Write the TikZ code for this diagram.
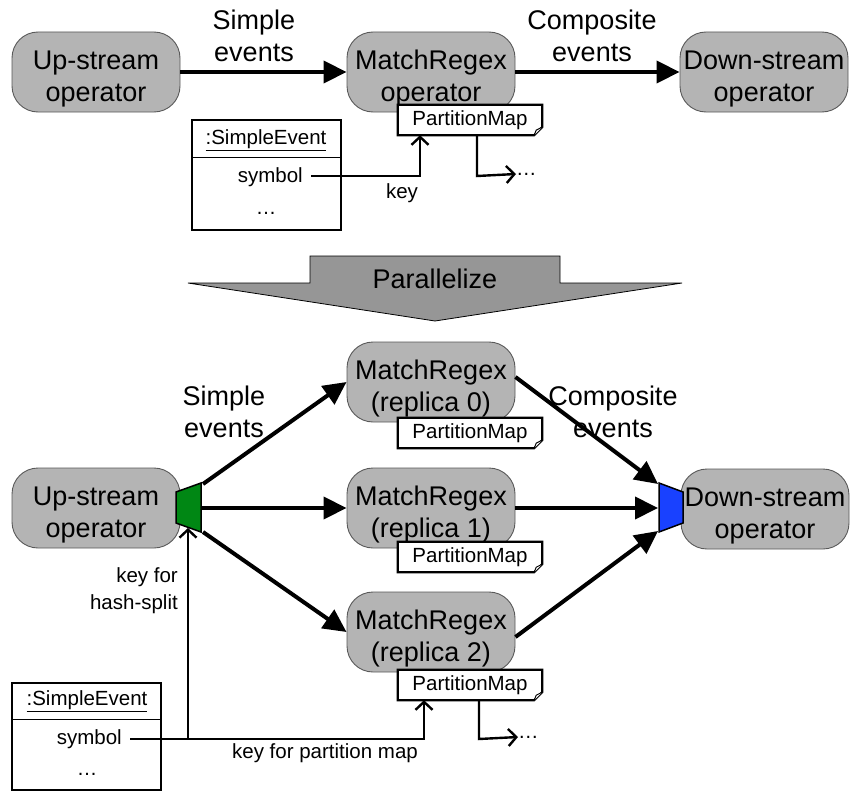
\documentclass[tikz,border=0pt]{standalone}
\usepackage{fontspec}
\setmainfont{Liberation Sans}
\usetikzlibrary{arrows.meta,calc}
\definecolor{nodegray}{RGB}{180,180,180}
\definecolor{arrowgray}{RGB}{150,150,150}
\definecolor{hashgreen}{RGB}{0,135,20}
\definecolor{mergeblue}{RGB}{25,65,255}
\newcommand\lowtxt{\rule{0pt}{33pt}}
\newcommand\pmapoutline[1]{%
  \draw[line width=2.2pt, line join=miter]
    (#1.north west) -- (#1.north east) -- ($(#1.south east)+(0,-8)$)
    -- ($(#1.south east)+(-8,0)$) -- (#1.south west) -- cycle;
  \draw[line width=1pt, fill=white]
    ($(#1.south east)+(0,-8)$) -- ($(#1.south east)+(-6,-5)$) -- ($(#1.south east)+(-8,0)$);
}
\begin{document}
\begin{tikzpicture}[x=1pt,y=-1pt,
  op/.style={draw=black!65, line width=0.9pt, fill=nodegray, rounded corners=26pt,
    minimum width=168pt, minimum height=80pt, align=center,
    font=\fontsize{27}{32}\selectfont, inner sep=0pt},
  lbl/.style={align=center, font=\fontsize{27}{32}\selectfont, inner sep=0pt},
  sm/.style={font=\fontsize{20.5}{27}\selectfont, inner sep=0pt},
  pm/.style={fill=white, minimum width=144pt, minimum height=30pt, inner sep=0pt,
    font=\fontsize{20.5}{24}\selectfont},
  flow/.style={line width=4pt, -{Triangle[length=23pt,width=22pt]}},
  keyline/.style={line width=2.4pt, line join=miter, -{Straight Barb[length=8pt,width=17pt]}},
  umlbox/.style={draw, line width=2pt},
]
\useasboundingbox (0,0) rectangle (851,792);

% ---------------- top part ----------------
\node[op] (up1) at (96,72) {\lowtxt Up-stream\\operator};
\node[op] (mr) at (431,72) {\lowtxt MatchRegex\\operator};
\node[op] (down1) at (764,72) {\lowtxt Down-stream\\operator};
\node[lbl] (se1lbl) at (254,36) {Simple\\events};
\node[lbl] (ce1lbl) at (592,36) {Composite\\events};
\draw[flow] (up1) -- (mr);
\draw[flow] (mr) -- (down1);

\node[pm] (pm1) at (470,120) {PartitionMap};
\pmapoutline{pm1}

\draw[umlbox] (192,120) rectangle (341,230);
\draw[line width=1pt] (192,157) -- (341,157);
\node[sm] (set1) at (266,140) {\underline{:SimpleEvent}};
\node[sm, anchor=east] (sym1) at (303,177) {symbol};
\node[sm] (dots1) at (266,213) {\dots};
\coordinate (k1) at (420,176);
\draw[keyline] ([xshift=8pt]sym1.east |- k1) -- (k1) -- (k1 |- pm1.south);
\node[sm] (key1) at (402,193) {key};
\coordinate (o1) at (477,176);
\node[sm, anchor=west] (more1) at (516,174) {\dots};
\draw[keyline] (o1 |- pm1.south) -- (o1) -- (more1.west);

% ---------------- parallelize arrow ----------------
\draw[fill=arrowgray, line width=0.8pt, line join=miter]
  (188,283) -- (310,283) -- (310,256) -- (560,256) -- (560,283) -- (682,283)
  -- (435,321) -- cycle;
\node[lbl] (par) at (435,279) {Parallelize};

% ---------------- bottom part ----------------
\node[op] (up2) at (96,508) {\lowtxt Up-stream\\operator};
\node[op] (down2) at (765,509) {\lowtxt Down-stream\\operator};
\node[op] (r0) at (431,382) {\lowtxt MatchRegex\\(replica 0)};
\node[op] (r1) at (431,508) {\lowtxt MatchRegex\\(replica 1)};
\node[op] (r2) at (431,632) {\lowtxt MatchRegex\\(replica 2)};

% split (green) and merge (blue)
\draw[fill=hashgreen, line width=1.5pt, line join=miter]
  (176,492) -- (201,483) -- (201,532) -- (176,523) -- cycle;
\coordinate (g0) at (203,484);
\coordinate (g1) at (201,508);
\coordinate (g2) at (203,532);
\coordinate (gb) at (188,528);
\draw[fill=mergeblue, line width=1.5pt, line join=miter]
  (659,483) -- (683,492) -- (683,523) -- (659,532) -- cycle;
\coordinate (b0) at (658,484);
\coordinate (b1) at (658,508);
\coordinate (b2) at (658,531);

\draw[flow] (g0) -- (r0.west);
\draw[flow] (g1) -- (r1.west);
\draw[flow] (g2) -- (r2.west);
\draw[flow] ([yshift=5pt]r0.east) -- (b0);
\draw[flow] (r1.east) -- (b1);
\draw[flow] ([yshift=-5pt]r2.east) -- (b2);

\node[lbl] (se2lbl) at (224,412) {Simple\\events};
\node[lbl] (ce2lbl) at (613,412) {Composite\\events};

\node[pm] (pm0) at (470,433) {PartitionMap};
\pmapoutline{pm0}
\node[pm] (pm1b) at (470,557) {PartitionMap};
\pmapoutline{pm1b}
\node[pm] (pm2) at (470,685) {PartitionMap};
\pmapoutline{pm2}

\draw[umlbox] (12,683) rectangle (161,790);
\draw[line width=1pt] (12,719) -- (161,719);
\node[sm] (set2) at (87,701) {\underline{:SimpleEvent}};
\node[sm, anchor=east] (sym2) at (122,739) {symbol};
\node[sm] (dots2) at (87,774) {\dots};

\coordinate (j) at (188,739);
\coordinate (k2) at (424,739);
\draw[keyline] ([xshift=8pt]sym2.east |- k2) -- (k2) -- (k2 |- pm2.south);
\draw[keyline] (j) -- (gb);
\node[sm, align=right, anchor=east] (hashlbl) at (178,591) {key for\\hash-split};
\node[sm] (key2) at (325,753) {key for partition map};
\coordinate (o2) at (479,739);
\node[sm, anchor=west] (more2) at (518,737) {\dots};
\draw[keyline] (o2 |- pm2.south) -- (o2) -- (more2.west);
\end{tikzpicture}
\end{document}
